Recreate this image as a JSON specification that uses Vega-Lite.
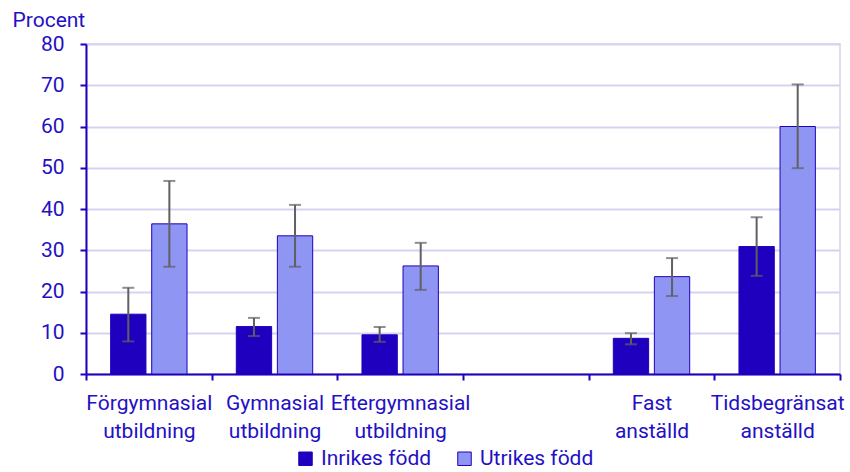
{
  "$schema": "https://vega.github.io/schema/vega-lite/v6.json",
  "width": 754,
  "height": 330,
  "autosize": "none",
  "padding": {"left": 86, "top": 44, "right": 10, "bottom": 98},
  "background": "white",
  "config": {
    "font": "Roboto",
    "view": {"stroke": "#d4d4f0", "strokeWidth": 1.5}
  },
  "data": {
    "values": [
      {"cat": "Förgymnasial utbildning", "serie": "Inrikes född", "value": 14.5, "lo": 7.9, "hi": 20.9},
      {"cat": "Förgymnasial utbildning", "serie": "Utrikes född", "value": 36.4, "lo": 26.0, "hi": 46.8},
      {"cat": "Gymnasial utbildning", "serie": "Inrikes född", "value": 11.5, "lo": 9.2, "hi": 13.6},
      {"cat": "Gymnasial utbildning", "serie": "Utrikes född", "value": 33.5, "lo": 26.0, "hi": 41.0},
      {"cat": "Eftergymnasial utbildning", "serie": "Inrikes född", "value": 9.5, "lo": 7.8, "hi": 11.4},
      {"cat": "Eftergymnasial utbildning", "serie": "Utrikes född", "value": 26.2, "lo": 20.4, "hi": 31.8},
      {"cat": "Fast anställd", "serie": "Inrikes född", "value": 8.65, "lo": 7.2, "hi": 9.9},
      {"cat": "Fast anställd", "serie": "Utrikes född", "value": 23.6, "lo": 18.9, "hi": 28.1},
      {"cat": "Tidsbegränsat anställd", "serie": "Inrikes född", "value": 30.9, "lo": 23.8, "hi": 38.0},
      {"cat": "Tidsbegränsat anställd", "serie": "Utrikes född", "value": 60.0, "lo": 49.9, "hi": 70.2}
    ]
  },
  "encoding": {
    "x": {
      "field": "cat",
      "type": "nominal",
      "scale": {
        "domain": ["Förgymnasial utbildning", "Gymnasial utbildning", "Eftergymnasial utbildning", " ", "Fast anställd", "Tidsbegränsat anställd"],
        "paddingInner": 0,
        "paddingOuter": 0
      },
      "axis": {
        "title": null,
        "labelAngle": 0,
        "labelExpr": "split(datum.label, ' ')",
        "labelFontSize": 21,
        "labelColor": "#2410c4",
        "labelLineHeight": 28,
        "labelPadding": 12,
        "domainColor": "#1e00be",
        "domainWidth": 2,
        "tickColor": "#1e00be",
        "tickWidth": 2,
        "tickSize": 6,
        "tickBand": "extent",
        "grid": false
      }
    },
    "xOffset": {
      "field": "serie",
      "type": "nominal",
      "scale": {"domain": ["Inrikes född", "Utrikes född"], "paddingInner": 0.14, "paddingOuter": 0.6}
    }
  },
  "layer": [
    {
      "mark": {"type": "bar", "stroke": "#1e00be", "strokeWidth": 1},
      "encoding": {
        "y": {
          "field": "value",
          "type": "quantitative",
          "scale": {"domain": [0, 80], "nice": false},
          "axis": {
            "values": [0, 10, 20, 30, 40, 50, 60, 70, 80],
            "title": "Procent",
            "titleAngle": 0,
            "titleAlign": "left",
            "titleBaseline": "alphabetic",
            "titleX": -74,
            "titleY": -18,
            "titleFontSize": 21,
            "titleFontWeight": "normal",
            "titleColor": "#2410c4",
            "labelFontSize": 21,
            "labelColor": "#2410c4",
            "labelPadding": 16,
            "gridColor": "#d4d4f0",
            "gridWidth": 2,
            "domainColor": "#1e00be",
            "domainWidth": 2,
            "tickColor": "#1e00be",
            "tickWidth": 2,
            "tickSize": 6
          }
        },
        "color": {
          "field": "serie",
          "type": "nominal",
          "scale": {"domain": ["Inrikes född", "Utrikes född"], "range": ["#1f00bf", "#8f95f2"]},
          "legend": {
            "title": null,
            "orient": "none",
            "direction": "horizontal",
            "legendX": 209,
            "legendY": 404,
            "symbolType": "square",
            "symbolSize": 182,
            "symbolStrokeColor": "#1e00be",
            "symbolStrokeWidth": 1,
            "labelFontSize": 21,
            "labelColor": "#2410c4",
            "labelOffset": 5,
            "columnPadding": 22
          }
        }
      }
    },
    {
      "mark": {"type": "rule", "color": "#606060", "strokeWidth": 2},
      "encoding": {
        "y": {"field": "lo", "type": "quantitative"},
        "y2": {"field": "hi"}
      }
    },
    {
      "mark": {"type": "tick", "color": "#606060", "thickness": 2, "size": 12, "orient": "horizontal"},
      "encoding": {"y": {"field": "lo", "type": "quantitative"}}
    },
    {
      "mark": {"type": "tick", "color": "#606060", "thickness": 2, "size": 12, "orient": "horizontal"},
      "encoding": {"y": {"field": "hi", "type": "quantitative"}}
    }
  ]
}
